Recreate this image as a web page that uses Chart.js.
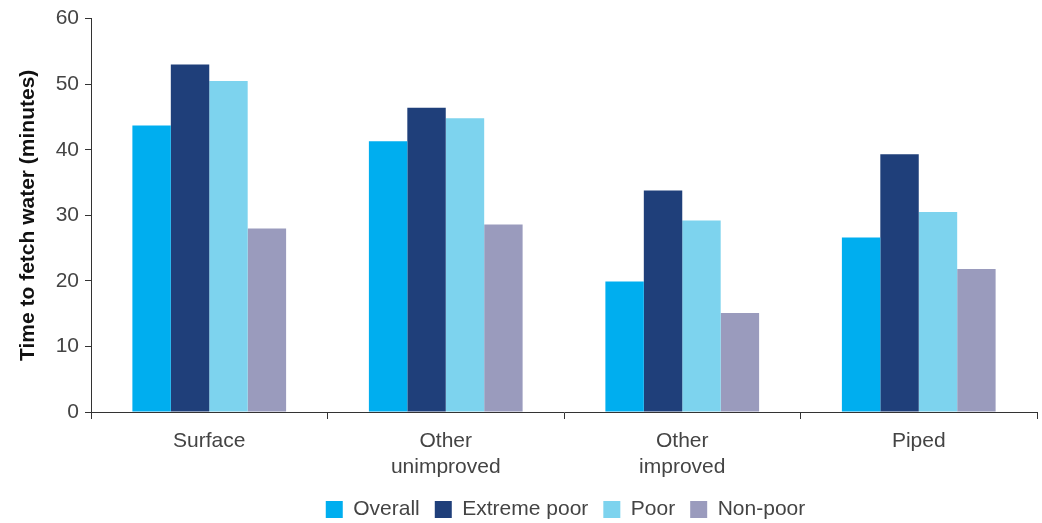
<!DOCTYPE html>
<html>
<head>
<meta charset="utf-8">
<script src="https://cdn.jsdelivr.net/npm/chart.js@4/dist/chart.umd.min.js"></script>
<style>
  html, body { margin: 0; padding: 0; background: #fff; }
  #wrap { width: 1042px; height: 523px; }
</style>
</head>
<body>
<div id="wrap"><canvas id="chart" width="1042" height="523"></canvas></div>
<script>
// Tijd om water te halen, per bron en welvaartsgroep
const categories = ['Surface', ['Other', 'unimproved'], ['Other', 'improved'], 'Piped'];
const overall     = [43.7, 41.3, 19.9, 26.6];
const extremePoor = [53.0, 46.4, 33.8, 39.3];
const poor        = [50.5, 44.8, 29.2, 30.5];
const nonPoor     = [28.0, 28.6, 15.1, 21.8];
const yTicks = [0, 10, 20, 30, 40, 50, 60];

const font = "'Liberation Sans', Arial, Helvetica, sans-serif";
const ink = '#444';

function ds(label, data, color) {
  return { label: label, data: data, backgroundColor: color, borderWidth: 0,
           categoryPercentage: 0.65, barPercentage: 1.0 };
}

// legenda iets lager en naar rechts, zonder de plotruimte te verschuiven
const legendShift = {
  id: 'legendShift',
  afterLayout(chart) {
    const lg = chart.legend;
    lg.top += 7; lg.bottom += 7;
    lg.left += 39; lg.right += 39;
  }
};

new Chart(document.getElementById('chart').getContext('2d'), {
  type: 'bar',
  data: {
    labels: categories,
    datasets: [
      ds('Overall', overall, '#00aeef'),
      ds('Extreme poor', extremePoor, '#1f3f7a'),
      ds('Poor', poor, '#7dd3ee'),
      ds('Non-poor', nonPoor, '#9a9bbd')
    ]
  },
  plugins: [legendShift],
  options: {
    responsive: false,
    animation: false,
    layout: { padding: { left: 16, right: 5, top: 8, bottom: 0 } },
    plugins: {
      tooltip: { enabled: false },
      legend: {
        position: 'bottom',
        labels: {
          font: { family: font, size: 21 },
          color: ink,
          boxWidth: 17,
          boxHeight: 17,
          padding: 15
        }
      }
    },
    scales: {
      x: {
        afterFit: s => { s.height = 65; },
        grid: { offset: true, drawOnChartArea: false, drawTicks: true, tickLength: 7, color: '#333' },
        border: { color: '#333', width: 1 },
        ticks: { font: { family: font, size: 21, lineHeight: 1.2 }, color: ink, padding: 10, maxRotation: 0 }
      },
      y: {
        min: 0, max: 60,
        afterFit: s => { s.width = 75; },
        afterBuildTicks: s => { s.ticks = yTicks.map(v => ({ value: v })); },
        grid: { drawOnChartArea: false, drawTicks: true, tickLength: 6, color: '#333' },
        border: { color: '#333', width: 1 },
        ticks: { font: { family: font, size: 21 }, color: ink, padding: 6 },
        title: {
          display: true,
          text: 'Time to fetch water (minutes)',
          font: { family: font, size: 21, weight: 'bold' },
          color: '#111',
          padding: 0
        }
      }
    }
  }
});
</script>
</body>
</html>
